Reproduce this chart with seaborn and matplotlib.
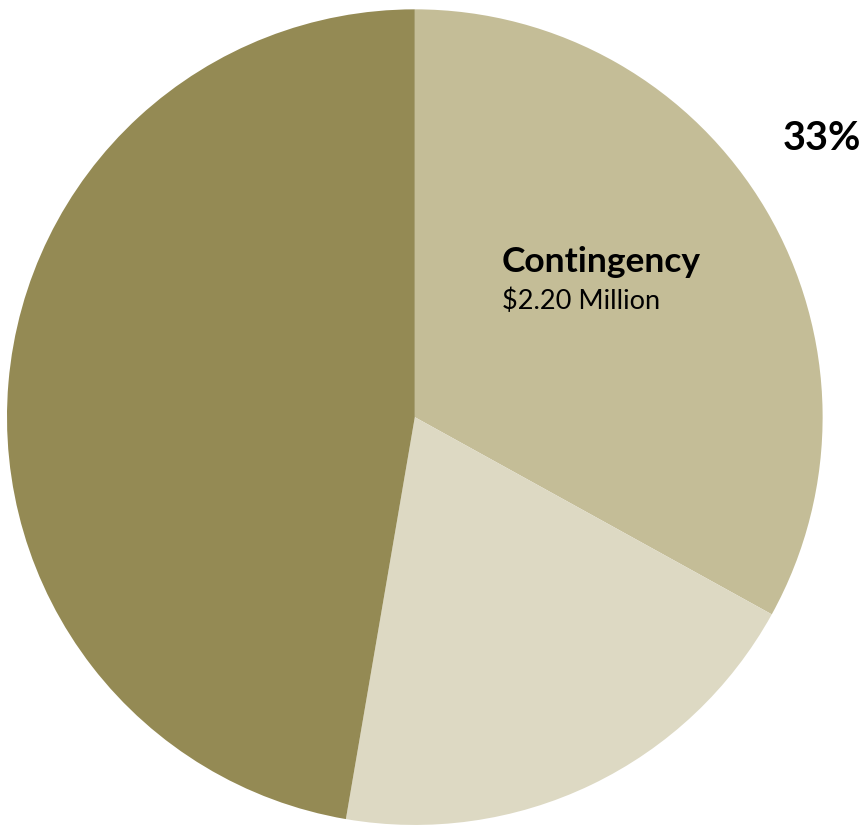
import matplotlib
matplotlib.use("Agg")
import matplotlib.pyplot as plt
import seaborn as sns

# Budget split (in $ millions); only the contingency slice is labelled
categories = ["Contingency", "Other A", "Other B"]
values = [2.20, 1.31, 3.15]
colors = ["#C4BD97", "#DDD9C3", "#948A54"]

sns.set_theme(style="white")
plt.rcParams["font.family"] = ["Lato", "DejaVu Sans"]

fig = plt.figure(figsize=(8.64, 8.29), dpi=100)
ax = fig.add_axes([0.0081, 0.0036, 0.944, 0.984])

wedges, _ = ax.pie(values, colors=colors, startangle=90, counterclock=False,
                   radius=1.0, wedgeprops=dict(linewidth=0))
ax.set_xlim(-1, 1)
ax.set_ylim(-1, 1)
ax.set_aspect("equal")
ax.axis("off")

share = values[0] / sum(values) * 100
ax.text(0.213, 0.358, categories[0], fontsize=25.5, fontweight="bold",
        ha="left", va="baseline", color="black")
ax.text(0.213, 0.267, f"${values[0]:.2f} Million", fontsize=19.5,
        ha="left", va="baseline", color="black")
ax.text(0.902, 0.657, f"{share:.0f}%", fontsize=28.5, fontweight="bold",
        ha="left", va="baseline", color="black", clip_on=False)

fig.savefig("out.png", dpi=100, facecolor="white")
